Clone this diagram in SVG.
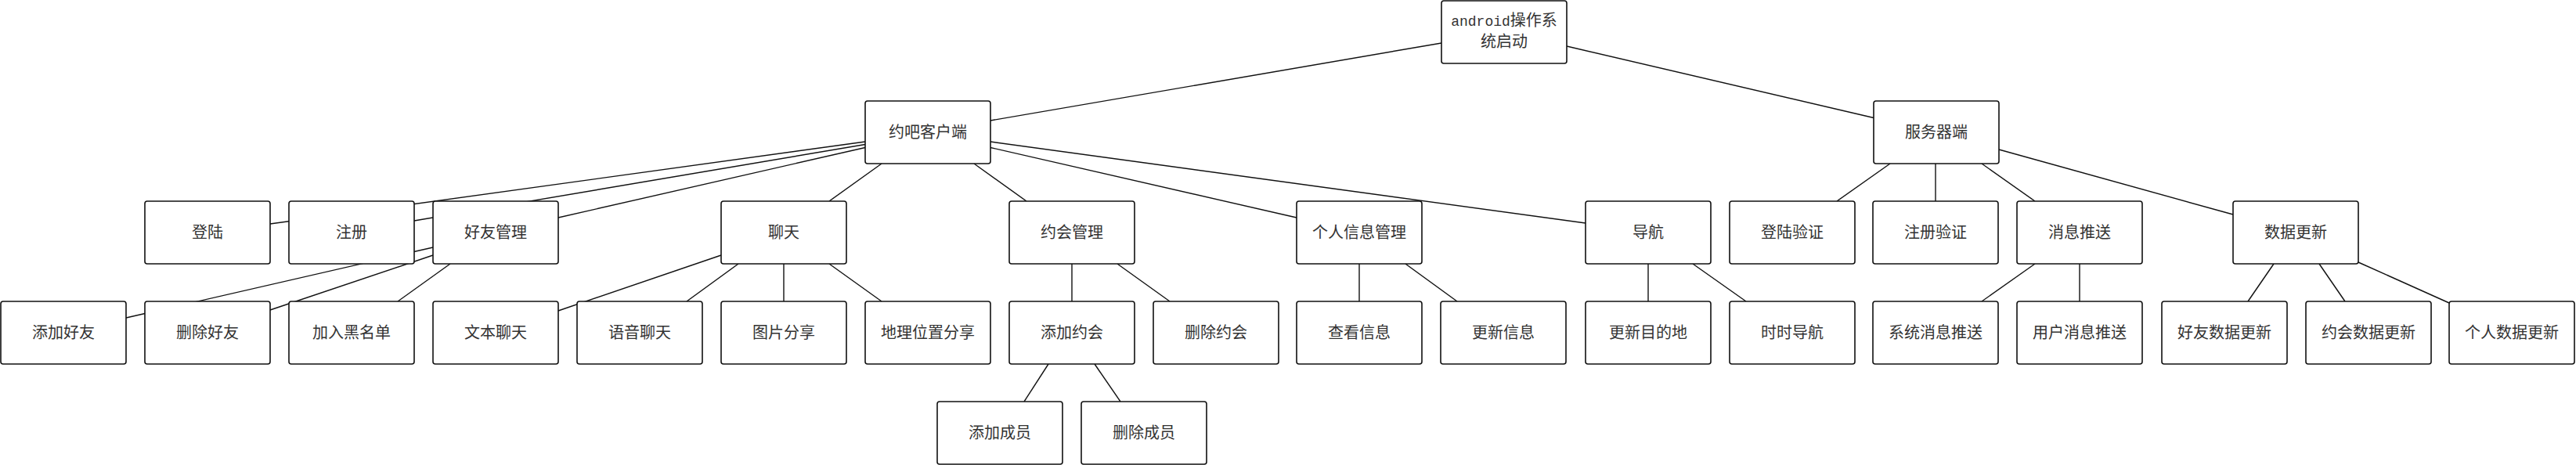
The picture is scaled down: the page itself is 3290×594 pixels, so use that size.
<svg xmlns="http://www.w3.org/2000/svg" width="3290" height="594" viewBox="0 0 3290 594">
<style>
.bg{fill:#ffffff}
.conn line{stroke:#111;stroke-width:1.4;fill:none}
.node rect{fill:#ffffff;stroke:#111;stroke-width:1.6}
.node text{font-family:"Noto Sans CJK SC","Liberation Sans",sans-serif;font-size:20px;fill:#333;text-anchor:middle}
.mono{font-family:"Liberation Mono",monospace;font-size:18px}
</style>
<rect class="bg" x="0" y="0" width="3290" height="594"/>
<g id="connectors" class="conn">
<line x1="1841" y1="55" x2="1265" y2="154"/>
<line x1="2001" y1="59" x2="2393" y2="150.5"/>
<line x1="1105" y1="181" x2="345" y2="286"/>
<line x1="1105" y1="184.5" x2="529" y2="282"/>
<line x1="1105" y1="188.5" x2="713" y2="278"/>
<line x1="1126" y1="209" x2="1059" y2="257"/>
<line x1="1244" y1="209" x2="1311" y2="257"/>
<line x1="1265" y1="188.5" x2="1656" y2="278"/>
<line x1="1265" y1="181" x2="2025" y2="285"/>
<line x1="553" y1="316" x2="161" y2="406"/>
<line x1="553" y1="326" x2="345" y2="396"/>
<line x1="575" y1="337" x2="508" y2="385"/>
<line x1="921" y1="326" x2="713" y2="397"/>
<line x1="943" y1="337" x2="877" y2="385"/>
<line x1="1001" y1="337" x2="1001" y2="385"/>
<line x1="1059" y1="337" x2="1126" y2="385"/>
<line x1="1369" y1="337" x2="1369" y2="385"/>
<line x1="1427" y1="337" x2="1494" y2="385"/>
<line x1="1339" y1="465" x2="1308" y2="513"/>
<line x1="1398" y1="465" x2="1431" y2="513"/>
<line x1="1736" y1="337" x2="1736" y2="385"/>
<line x1="1795" y1="337" x2="1861" y2="385"/>
<line x1="2105" y1="337" x2="2105" y2="385"/>
<line x1="2162" y1="337" x2="2230" y2="385"/>
<line x1="2414" y1="209" x2="2346" y2="257"/>
<line x1="2472" y1="209" x2="2472" y2="257"/>
<line x1="2531" y1="209" x2="2599" y2="257"/>
<line x1="2553" y1="191" x2="2852" y2="274"/>
<line x1="2599" y1="337" x2="2531" y2="385"/>
<line x1="2656" y1="337" x2="2656" y2="385"/>
<line x1="2904" y1="337" x2="2871" y2="385"/>
<line x1="2962" y1="337" x2="2995" y2="385"/>
<line x1="3012" y1="335" x2="3128" y2="387"/>
</g>
<g id="n-android" class="node"><rect x="1841" y="1" width="160" height="80" rx="3"/><text x="1921" y="33"><tspan class="mono">android</tspan>操作系</text><text x="1921" y="60">统启动</text></g>
<g id="n-client" class="node"><rect x="1105" y="129" width="160" height="80" rx="3"/><text x="1185" y="176">约吧客户端</text></g>
<g id="n-server" class="node"><rect x="2393" y="129" width="160" height="80" rx="3"/><text x="2473" y="176">服务器端</text></g>
<g id="n-login" class="node"><rect x="185" y="257" width="160" height="80" rx="3"/><text x="265" y="304">登陆</text></g>
<g id="n-register" class="node"><rect x="369" y="257" width="160" height="80" rx="3"/><text x="449" y="304">注册</text></g>
<g id="n-friends" class="node"><rect x="553" y="257" width="160" height="80" rx="3"/><text x="633" y="304">好友管理</text></g>
<g id="n-chat" class="node"><rect x="921" y="257" width="160" height="80" rx="3"/><text x="1001" y="304">聊天</text></g>
<g id="n-dates" class="node"><rect x="1289" y="257" width="160" height="80" rx="3"/><text x="1369" y="304">约会管理</text></g>
<g id="n-profile" class="node"><rect x="1656" y="257" width="160" height="80" rx="3"/><text x="1736" y="304">个人信息管理</text></g>
<g id="n-nav" class="node"><rect x="2025" y="257" width="160" height="80" rx="3"/><text x="2105" y="304">导航</text></g>
<g id="n-loginverify" class="node"><rect x="2209" y="257" width="160" height="80" rx="3"/><text x="2289" y="304">登陆验证</text></g>
<g id="n-regverify" class="node"><rect x="2392" y="257" width="160" height="80" rx="3"/><text x="2472" y="304">注册验证</text></g>
<g id="n-push" class="node"><rect x="2576" y="257" width="160" height="80" rx="3"/><text x="2656" y="304">消息推送</text></g>
<g id="n-update" class="node"><rect x="2852" y="257" width="160" height="80" rx="3"/><text x="2932" y="304">数据更新</text></g>
<g id="n-addfriend" class="node"><rect x="1" y="385" width="160" height="80" rx="3"/><text x="81" y="432">添加好友</text></g>
<g id="n-delfriend" class="node"><rect x="185" y="385" width="160" height="80" rx="3"/><text x="265" y="432">删除好友</text></g>
<g id="n-blacklist" class="node"><rect x="369" y="385" width="160" height="80" rx="3"/><text x="449" y="432">加入黑名单</text></g>
<g id="n-textchat" class="node"><rect x="553" y="385" width="160" height="80" rx="3"/><text x="633" y="432">文本聊天</text></g>
<g id="n-voicechat" class="node"><rect x="737" y="385" width="160" height="80" rx="3"/><text x="817" y="432">语音聊天</text></g>
<g id="n-picshare" class="node"><rect x="921" y="385" width="160" height="80" rx="3"/><text x="1001" y="432">图片分享</text></g>
<g id="n-geoshare" class="node"><rect x="1105" y="385" width="160" height="80" rx="3"/><text x="1185" y="432">地理位置分享</text></g>
<g id="n-adddate" class="node"><rect x="1289" y="385" width="160" height="80" rx="3"/><text x="1369" y="432">添加约会</text></g>
<g id="n-deldate" class="node"><rect x="1473" y="385" width="160" height="80" rx="3"/><text x="1553" y="432">删除约会</text></g>
<g id="n-viewinfo" class="node"><rect x="1656" y="385" width="160" height="80" rx="3"/><text x="1736" y="432">查看信息</text></g>
<g id="n-updinfo" class="node"><rect x="1840" y="385" width="160" height="80" rx="3"/><text x="1920" y="432">更新信息</text></g>
<g id="n-upddest" class="node"><rect x="2025" y="385" width="160" height="80" rx="3"/><text x="2105" y="432">更新目的地</text></g>
<g id="n-realtimenav" class="node"><rect x="2209" y="385" width="160" height="80" rx="3"/><text x="2289" y="432">时时导航</text></g>
<g id="n-syspush" class="node"><rect x="2392" y="385" width="160" height="80" rx="3"/><text x="2472" y="432">系统消息推送</text></g>
<g id="n-userpush" class="node"><rect x="2576" y="385" width="160" height="80" rx="3"/><text x="2656" y="432">用户消息推送</text></g>
<g id="n-frienddata" class="node"><rect x="2761" y="385" width="160" height="80" rx="3"/><text x="2841" y="432">好友数据更新</text></g>
<g id="n-datedata" class="node"><rect x="2945" y="385" width="160" height="80" rx="3"/><text x="3025" y="432">约会数据更新</text></g>
<g id="n-persondata" class="node"><rect x="3128" y="385" width="160" height="80" rx="3"/><text x="3208" y="432">个人数据更新</text></g>
<g id="n-addmember" class="node"><rect x="1197" y="513" width="160" height="80" rx="3"/><text x="1277" y="560">添加成员</text></g>
<g id="n-delmember" class="node"><rect x="1381" y="513" width="160" height="80" rx="3"/><text x="1461" y="560">删除成员</text></g>
</svg>
